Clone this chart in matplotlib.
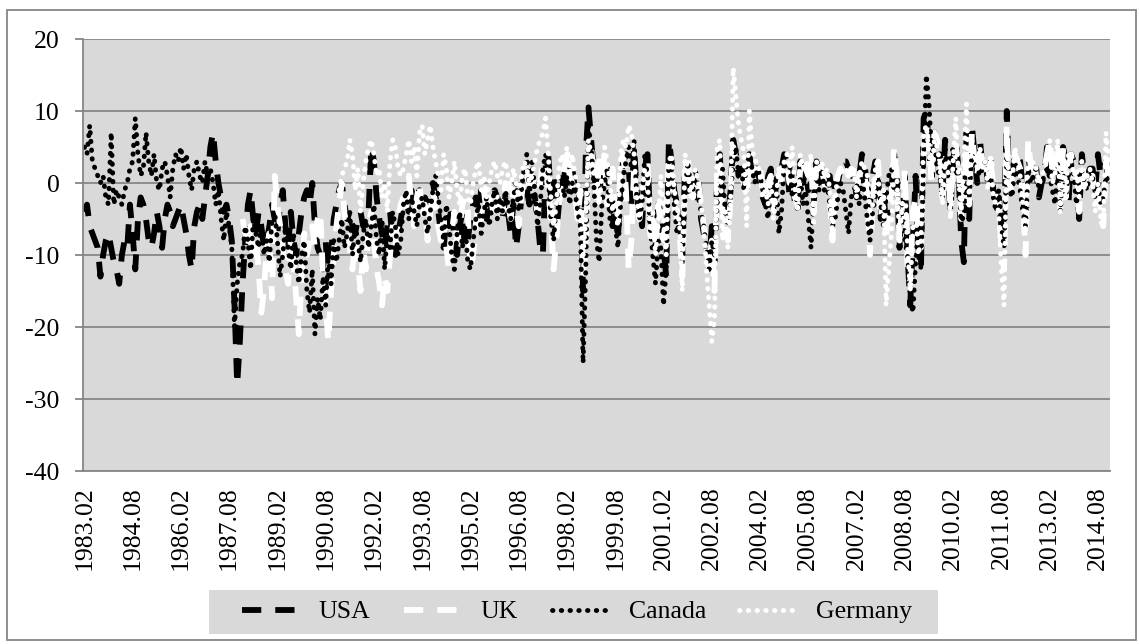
import numpy as np
import matplotlib.pyplot as plt
from matplotlib.lines import Line2D
from matplotlib.patches import Rectangle

plt.rcParams['font.family'] = ['Liberation Serif', 'DejaVu Serif']
plt.rcParams['axes.unicode_minus'] = False

nan = np.nan

# monthly values, 1983.02 - 2014.12, one row per year
usa = [
    -4, -3, -6, -7, -8, -9, -13, -10, -8, -7, -9,           # 1983 (Feb-Dec)
    -11, -12, -14, -10, -8, -9, -3, -7, -12, -5, -2, -3,    # 1984
    -5, -8, -9, -7, -4, -6, -9, -5, -3, -4, -6, -5,         # 1985
    -4, -3, -5, -7, -10, -12, -6, -4, -3, -5, -2, 1,        # 1986
    5, 7, 3, 0, -2, -4, -3, -5, -8, -17, -28, -22,          # 1987
    -14, -8, -3, -1, -5, -7, -4, -6, -9, -8, -6, -3,        # 1988
    -5, -7, -3, -1, -6, -9, -4, -8, -10, -7, -4, -2,        # 1989
    -1, -3, 0, -6, -9, -10, -12, -8, -14, -10, -5, -3,      # 1990
    -1, 0, -3, -5, -4, -6, -7, -5, -4, -6, -5, -4,          # 1991
    5, 3, -2, -5, -7, -9, -6, -4, -8, -10, -7, -5,          # 1992
    -3, -2, -4, -1, -3, -2, -1, -4, -2, -3, -1, 0,          # 1993
    -2, -4, -7, -9, -5, -6, -3, -8, -10, -6, -4, -9,        # 1994
    -8, -5, -3, -2, -4, -1, -3, -5, -2, -4, -1, -2,         # 1995
    -3, -5, -2, -4, -7, -3, -9, -6, -2, 0, -1, -3,          # 1996
    -1, -2, -5, -9, -10, 2, 4, -2, 1, -7, -3, -1,           # 1997
    1, 3, 0, 2, -1, -3, -1, -15, 4, 10.5, 6, 2,             # 1998
    -2, 1, 3, -1, 2, -4, -6, -3, -8, 1, 3, 4,               # 1999
    2, -3, 5, -1, -4, -6, 2, 4, -5, -7, -9, -3,             # 2000
    -4, -9, -13, 6, 3, -1, -3, -5, -10, 2, 1, -2,           # 2001
    -1, -2, 1, -5, -7, -9, -11, -6, -12, 1, 4, -4,          # 2002
    -3, -5, -1, 6, 4, 1, 2, 1, -1, 4, 1, 2,                 # 2003
    2, 0, -2, -3, 1, 2, -4, 0, 1, 2, 4, 3,                  # 2004
    -2, 2, -3, -4, 3, 0, 2, -1, 0, -3, 3, 0,                # 2005
    2, 0, 1, 1, -4, 0, 0, 2, 3, 3, 2, 1,                    # 2006
    1, -2, 1, 4, 3, -2, -3, 1, 3, 1, -5, -1,                # 2007
    -6, -3, -1, 4, 1, -9, -1, 1, -10, -17, -8, 1,           # 2008
    -9, -12, 9, 10, 5, 0, 7, 3, 4, -2, 6, 2,                # 2009
    -4, 3, 6, 2, -8, -11, 7, -5, 8, 4, 0, 6,                # 2010
    2, 3, 0, 3, -1, -2, -2, -6, -7, 10, -1, 1,              # 2011
    4, 4, 3, -1, -6, 4, 1, 2, 2, -2, 0, 1,                  # 2012
    5, 1, 3, 2, 2, -1, 5, 3, -3, 4, 3, 2,                   # 2013
    -5, 4, 1, 1, 2, 2, -1, 4, 1, 2, 3, 0,                   # 2014
]

canada = [
    5, 4, 8, 3, 2, 1, 0, 1, -2, -3, 7,                      # 1983
    -3, -1, -2, -3, -1, 0, 2, 3, 9, 4, 1, 2,                # 1984
    7, 3, 1, 4, 0, -1, 2, 3, 1, -2, 2, 4,                   # 1985
    3, 5, 2, 4, 1, -1, 2, 3, 1, 0, 3, 1,                    # 1986
    2, 0, -3, -1, -5, -8, -4, -6, -9, -20, -14, -11,        # 1987
    -10, -6, -8, -12, -5, -7, -9, -6, -10, -8, -11, -5,     # 1988
    -4, -8, -13, -10, -6, -9, -12, -7, -11, -14, -10, -8,   # 1989
    -15, -18, -12, -21, -16, -19, -13, -17, -10, -14, -8, -11,  # 1990
    -8, -5, -9, -7, -4, -10, -6, -8, -11, -7, -5, -9,       # 1991
    -6, -3, -8, -10, -5, -12, -7, -9, -4, -6, -10, -8,      # 1992
    -3, -1, -5, -2, -4, -6, -3, -2, -5, -7, -4, -1,         # 1993
    1, -2, -5, -8, -3, -6, -10, -12, -7, -4, -9, -6,        # 1994
    -11, -12, -8, -5, -3, -7, -4, -2, -6, -3, -1, -5,       # 1995
    -2, -4, -1, -3, -5, -2, 0, -4, -1, 2, 4, -2,            # 1996
    3, -1, -6, -3, 2, 4, 1, -5, -8, -3, 0, 1,               # 1997
    -2, 1, -3, 0, -1, -4, -6, -25, -12, 8, 5, 0,            # 1998
    -8, -11, -3, 0, 2, -5, -2, -6, -9, -3, 1, 3,            # 1999
    5, 2, 6, -2, -5, -3, 4, 1, -6, -10, -14, -8,            # 2000
    -9, -17, -12, 3, 2, -3, -7, -5, -11, -2, 3, 0,          # 2001
    -1, 2, -2, -4, -6, -9, -12, -8, -10, -3, 1, 2,          # 2002
    -4, -6, -2, 3, 5, 1, 2, -1, 3, 4, 2, 0,                 # 2003
    2, 1, -1, -3, -5, 0, -2, 1, -7, -4, 3, 2,               # 2004
    3, -2, 0, -4, 1, -3, -1, -5, -9, -2, 1, -1,             # 2005
    2, -1, 0, -3, -6, -5, -2, 0, -1, -4, -7, -2,            # 2006
    -1, 0, -3, 1, -2, -5, -8, -4, -2, 1, -3, -6,            # 2007
    -2, 1, 2, -1, 0, -5, -3, -8, -10, -16, -18, -11,        # 2008
    -6, -12, 3, 15, 11, 4, 6, 2, 1, -2, 5, 1,               # 2009
    3, 5, 1, 2, -6, -4, 0, -2, 4, 3, 2, 1,                  # 2010
    2, 3, 0, 1, -2, -4, -1, -6, -9, 4, -1, -2,              # 2011
    3, 1, -1, -4, -6, 2, 0, 1, 2, -1, 0, 1,                 # 2012
    2, 1, -1, -3, 3, -4, 2, -2, 1, 3, 1, -3,                # 2013
    1, 2, 0, -1, 2, 1, -2, 0, -3, -2, 1, 0,                 # 2014
]

# UK series starts 1988.01
uk = [nan] * 59 + [
    -5, -7, -9, -6, -10, -8, -12, -18, -15, -9, -7, -16,    # 1988
    1, -3, -6, -9, -12, -14, -8, -11, -16, -21, -13, -7,    # 1989
    -10, -8, -6, -9, -5, -4, -13, -17, -22, -15, -10, -6,   # 1990
    -3, 0, -4, -7, -9, -12, -8, -11, -15, -9, -12, -6,      # 1991
    -4, -8, -12, -14, -17, -13, -15, -10, -6, -9, -5, -3,   # 1992
    -2, -4, 1, -3, -6, -2, 0, -5, -3, -8, -4, -1,           # 1993
    -3, -6, -8, -5, -9, -12, -7, -4, -8, -6, -3, -2,        # 1994
    -4, -12, -10, -6, -3, -5, -1, -4, -2, -3, -5, -1,       # 1995
    -2, -4, 0, -3, -5, -1, -3, -6, -2, 1, 2, -1,            # 1996
    1, -2, -4, 0, 3, 2, -1, -5, -12, -8, -3, 0,             # 1997
    2, 4, 1, 0, -2, -5, -1, -13, -9, 3, 5, 1,               # 1998
    -2, 3, 1, 4, -3, -1, 2, -5, -6, 3, 4, -1,               # 1999
    -12, -8, 2, -3, -5, -2, 1, 3, -7, -4, -9, -3,           # 2000
    -6, -8, -4, 3, 1, -3, -5, -7, -13, 1, 4, -1,            # 2001
    -2, 1, 0, -3, -6, -9, -12, -8, -15, 2, 3, -4,           # 2002
    -5, -8, -2, 5, 3, 2, 1, 0, -2, 3, 1, 2,                 # 2003
    1, 2, -1, -2, 0, 1, -3, 0, 1, 2, 3, 2,                  # 2004
    0, 1, -2, -3, 2, 1, 2, 1, 3, -4, 2, 1,                  # 2005
    2, 0, -1, -2, -8, -1, 1, 2, 1, 2, 1, 2,                 # 2006
    1, -1, 1, 2, 1, -2, -10, -3, 2, 3, -5, -2,              # 2007
    -8, -3, -1, 5, 1, -8, -3, 2, -12, -14, -4, -2,          # 2008
    -6, -9, 4, 8, 4, 0, 7, 6, 4, -2, 3, 3,                  # 2009
    -3, 2, 5, 3, -5, -2, 5, -3, 7, 3, 1, 5,                 # 2010
    3, 2, 0, 4, -1, -2, -3, -9, -12, 8, -2, 1,              # 2011
    4, 3, 2, -2, -10, 6, 2, 3, 1, 0, 1, 2,                  # 2012
    4, 6, 2, 1, 5, -4, 5, -2, 2, 4, 1, 1,                   # 2013
    -4, 3, 0, 2, 1, 1, -2, -1, -5, -6, 3, 1,                # 2014
]

# Germany series starts 1991.01
germany = [nan] * 95 + [
    -1, 1, 2, 3, 6, 4, -1, 2, -4, 0, 3, 5,                  # 1991
    6, 4, 1, 2, -2, 0, -4, 3, 6, 5, 2, 1,                   # 1992
    2, 4, 6, 3, 5, 1, 7, 8, 4, 6, 8, 5,                     # 1993
    3, 1, -1, 4, 2, -2, 0, 3, -1, -3, 1, 2,                 # 1994
    -2, -3, 0, 2, 3, -1, 1, -2, 0, 2, 3, 1,                 # 1995
    0, 2, 3, 1, -1, 2, 0, -2, 1, 3, 2, 0,                   # 1996
    1, 3, 5, 6, 7, 9, 4, -2, -6, -3, 2, 4,                  # 1997
    3, 5, 2, 4, 1, 0, -4, -10, -5, 6, 4, 1,                 # 1998
    2, -3, 1, 5, 3, 0, -4, -2, -6, 4, 6, 5,                 # 1999
    8, 7, 4, -2, -5, -1, 2, 1, -8, -4, -10, -6,             # 2000
    1, -5, -10, 3, 4, -1, -3, -6, -15, 4, 2, -2,            # 2001
    1, 2, 0, -3, -6, -12, -17, -22, -19, 5, 6, -8,          # 2002
    -4, -9, -3, 16, 12, 8, 6, 4, -6, 10, 5, 3,              # 2003
    3, 1, -2, -1, -3, 1, -5, -2, 2, 0, 3, 4,                # 2004
    2, 5, -1, -4, 4, 2, 3, 2, 4, -6, 3, 2,                  # 2005
    3, 1, 2, -1, -7, -2, 1, 2, 2, 2, 1, 2,                  # 2006
    2, -2, 1, 3, 2, 1, -4, -3, 2, 1, -3, -1,                # 2007
    -17, -12, -7, 3, 1, -8, -3, 0, -9, -15, -6, -3,         # 2008
    -10, -8, 7, 8, 4, 1, 6, 5, 3, -3, 3, 2,                 # 2009
    -5, 3, 9, 1, -4, 3, 11, -3, 6, 4, 2, 5,                 # 2010
    2, 3, -1, 4, -2, -3, -4, -12, -17, 6, -1, 0,            # 2011
    5, 3, 1, -3, -7, 4, 2, 3, 2, 0, 1, 2,                   # 2012
    3, 6, 0, 1, 6, -4, 5, -2, 4, 3, 1, 2,                   # 2013
    -2, 3, -1, 1, 2, 0, -4, 0, -5, -6, 7, 3,                # 2014
]

# month labels 1983.02 ... 2014.12, every 18th one shown
months = ['%d.%02d' % (1983 + (m + 1) // 12, (m + 1) % 12 + 1) for m in range(len(usa))]

x = np.arange(len(usa))

fig = plt.figure(figsize=(11.39, 6.44), dpi=100)
ax = fig.add_axes([83/1139, 1-471/644, 1027/1139, 432/644])
ax.set_facecolor('#d9d9d9')

dash = (0, (3.3, 2.4))
dot = (0, (0.1, 1.7))
ax.plot(x, usa, color='k', lw=4.2, linestyle=dash, label='USA')
ax.plot(x, uk, color='w', lw=4.2, linestyle=dash, label='UK')
ax.plot(x, canada, color='k', lw=3.5, linestyle=dot, dash_capstyle='round', label='Canada')
ax.plot(x, germany, color='w', lw=3.5, linestyle=dot, dash_capstyle='round', label='Germany')

ax.set_xlim(-0.5, len(usa) - 0.5)
ax.set_ylim(-40, 20)
ax.set_yticks(np.arange(-40, 21, 10))
ax.yaxis.grid(True, color='#868686', lw=1.3)
ax.set_axisbelow(True)
ax.set_xticks(x[::18])
ax.set_xticklabels(months[::18], rotation=90)
for s in ['top', 'right']:
    ax.spines[s].set_visible(False)
for s in ['left', 'bottom']:
    ax.spines[s].set_color('#868686')
    ax.spines[s].set_linewidth(1.3)
ax.tick_params(axis='y', length=6, width=1.3, color='#868686', pad=11, labelsize=18.5)
ax.tick_params(axis='x', length=0, pad=11, labelsize=18.5)

# legend: grey box drawn by hand, entries placed inside it
fig.patches.append(Rectangle((209/1139, 1-634/644), 729/1139, 44/644, transform=fig.transFigure,
                             facecolor='#d9d9d9', edgecolor='none'))
handles = [Line2D([], [], color='k', lw=4.2, linestyle=dash),
           Line2D([], [], color='w', lw=4.2, linestyle=dash),
           Line2D([], [], color='k', lw=3.5, linestyle=dot, dash_capstyle='round'),
           Line2D([], [], color='w', lw=3.5, linestyle=dot, dash_capstyle='round')]
fig.legend(handles, ['USA', 'UK', 'Canada', 'Germany'], loc='center',
           bbox_to_anchor=(577/1139, 1-612/644), ncol=4, fontsize=18.5,
           frameon=False, handlelength=2.2, handletextpad=0.8,
           columnspacing=1.3, borderpad=0.2)

fig.patches.append(Rectangle((7/1139, 4/644), 1129/1139, 630/644, transform=fig.transFigure,
                             fill=False, edgecolor='#868686', lw=1.3))

plt.savefig('out.png', dpi=100)
